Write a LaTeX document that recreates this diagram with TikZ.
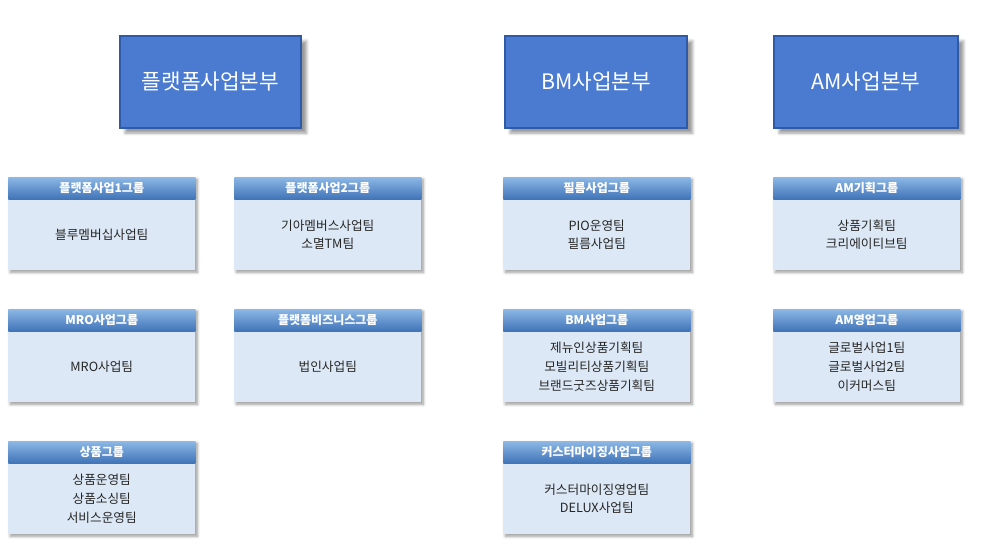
\documentclass[tikz,border=0pt]{standalone}
\usepackage{fontspec}
\setmainfont{Noto Sans CJK KR}
\usetikzlibrary{shadows,shadows.blur}
\definecolor{hb}{HTML}{4A7BD0}
\definecolor{hbd}{HTML}{2E5AA8}
\definecolor{cb}{HTML}{DCE8F5}
\definecolor{ct}{HTML}{8DB7E5}
\definecolor{cbt}{HTML}{3F74B8}
\begin{document}
\begin{tikzpicture}[x=0.75pt,y=-0.75pt,
  head/.style={draw=hbd,line width=1.2pt,fill=hb,text=white,font=\fontsize{16}{18}\selectfont,blur shadow={shadow xshift=4pt,shadow yshift=-4pt}},
  cardbody/.style={fill=cb,blur shadow={shadow xshift=1.5pt,shadow yshift=-1.5pt,shadow blur steps=4}},
  cardtop/.style={top color=ct,bottom color=cbt,text=white,font=\fontsize{9}{10}\bfseries\selectfont},
  txt/.style={font=\fontsize{9.5}{14}\selectfont,align=center,text=black!85}]
\useasboundingbox (0,0) rectangle (988,554);
\newcommand\hd[4]{\node[head,minimum width=#3*0.75pt-1.2pt,minimum height=92*0.75pt,anchor=north west] (#1) at (#2,35) {#4};}
\hd{h1}{119}{183}{플랫폼사업본부}
\hd{h2}{504}{184}{BM사업본부}
\hd{h3}{773}{186}{AM사업본부}
\newcommand\card[5]{%
 \node[cardbody,minimum width=187*0.75pt,minimum height=93*0.75pt,anchor=north west,inner sep=0pt] (#1) at (#2,#3) {};
 \node[cardtop,minimum width=187*0.75pt,minimum height=22*0.75pt,anchor=north west,inner sep=0pt] (#1t) at (#2,#3) {#4};
 \node[txt] (#1b) at ($(#1.center)+(0,11)$) {#5};}
\usetikzlibrary{calc}
\card{a1}{8}{177}{플랫폼사업1그룹}{블루멤버십사업팀}
\card{a2}{234}{177}{플랫폼사업2그룹}{기아멤버스사업팀\\소멸TM팀}
\card{a3}{503}{177}{필름사업그룹}{PIO운영팀\\필름사업팀}
\card{a4}{773}{177}{AM기획그룹}{상품기획팀\\크리에이티브팀}
\card{b1}{8}{309}{MRO사업그룹}{MRO사업팀}
\card{b2}{234}{309}{플랫폼비즈니스그룹}{법인사업팀}
\card{b3}{503}{309}{BM사업그룹}{제뉴인상품기획팀\\모빌리티상품기획팀\\브랜드굿즈상품기획팀}
\card{b4}{773}{309}{AM영업그룹}{글로벌사업1팀\\글로벌사업2팀\\이커머스팀}
\card{c1}{8}{441}{상품그룹}{상품운영팀\\상품소싱팀\\서비스운영팀}
\card{c3}{503}{441}{커스터마이징사업그룹}{커스터마이징영업팀\\DELUX사업팀}
\end{tikzpicture}
\end{document}
